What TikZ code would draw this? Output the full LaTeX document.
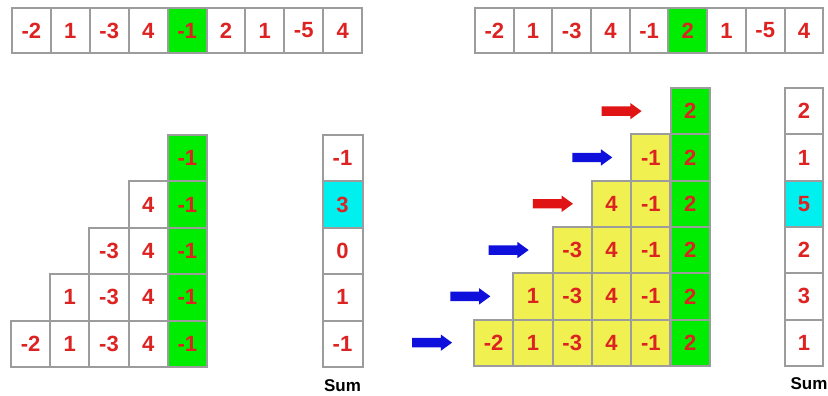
\documentclass[tikz,border=0pt]{standalone}
\usepackage{fontspec}
\setmainfont{Liberation Sans}
\usepackage{xcolor}
\usepackage{tikz}
\usetikzlibrary{positioning,shapes.arrows}
\definecolor{cellgreen}{HTML}{00EC00}
\definecolor{cellyellow}{HTML}{F0F050}
\definecolor{cellcyan}{HTML}{00F0F0}
\definecolor{gridgray}{HTML}{9C9C9C}
\definecolor{numred}{HTML}{DD2222}
\definecolor{arrblue}{HTML}{1010DD}
\definecolor{arrred}{HTML}{E01414}

\begin{document}
\begin{tikzpicture}[x=1pt, y=-1pt,
    cell/.style={rectangle, draw=gridgray, line width=2pt, inner sep=0pt,
                 minimum width=39.2pt, minimum height=46.3pt,
                 text=numred, font=\fontsize{22}{26}\selectfont\bfseries},
    topcell/.style={cell, minimum width=38.9pt, minimum height=45pt},
    sumlabel/.style={font=\fontsize{17}{20}\selectfont\bfseries, inner sep=2pt},
    fatarrow/.style={single arrow, draw=none, minimum height=40pt,
                     inner xsep=0pt, inner ysep=4.5pt, outer sep=0pt,
                     single arrow head extend=3.5pt, single arrow tip angle=72},
]
\useasboundingbox (0,0) rectangle (828,396);

% Input arrays
\foreach \v/\f [count=\i] in {-2/white, 1/white, -3/white, 4/white, -1/cellgreen,
                              2/white, 1/white, -5/white, 4/white}
    \node[topcell, fill=\f] (TL-\i) at ({12+38.9*(\i-0.5)}, 30.5) {\v};
\foreach \v/\f [count=\i] in {-2/white, 1/white, -3/white, 4/white, -1/white,
                              2/cellgreen, 1/white, -5/white, 4/white}
    \node[topcell, fill=\f] (TR-\i) at ({475+38.7*(\i-0.5)}, 30.5) {\v};

% Left triangle, ending at -1
\foreach \r in {1,...,5} {
    \pgfmathtruncatemacro\cs{6-\r}
    \foreach \c in {\cs,...,5} {
        \pgfmathtruncatemacro\v{{-2,1,-3,4,-1}[\c-1]}
        \ifnum\c=5 \def\cf{cellgreen}\else\def\cf{white}\fi
        \node[cell, fill=\cf] (L-\r-\c) at ({11+39.2*(\c-0.5)}, {135+46.4*(\r-0.5)}) {\v};
    }
}
\foreach \v/\f [count=\r] in {-1/white, 3/cellcyan, 0/white, 1/white, -1/white}
    \node[cell, fill=\f, minimum width=40pt] (LS-\r) at (342.5, {135+46.4*(\r-0.5)}) {\v};
\node[sumlabel, below=9pt of LS-5] (lsum) {Sum};

% Right triangle, ending at 2
\foreach \r in {1,...,6} {
    \pgfmathtruncatemacro\cs{7-\r}
    \foreach \c in {\cs,...,6} {
        \pgfmathtruncatemacro\v{{-2,1,-3,4,-1,2}[\c-1]}
        \ifnum\c=6 \def\cf{cellgreen}\else\def\cf{cellyellow}\fi
        \node[cell, fill=\cf] (R-\r-\c) at ({474+39.3*(\c-0.5)}, {88+46.3*(\r-0.5)}) {\v};
    }
}
\foreach \v/\f [count=\r] in {2/white, 1/white, 5/cellcyan, 2/white, 3/white, 1/white}
    \node[cell, fill=\f, minimum width=38pt] (RS-\r) at (804, {88+46.3*(\r-0.5)}) {\v};
\node[sumlabel, below=9pt of RS-6, xshift=5pt] (rsum) {Sum};

% Arrows
\foreach \r/\g/\col in {1/28/arrred, 2/18/arrblue, 3/18/arrred,
                        4/23/arrblue, 5/22/arrblue, 6/21/arrblue} {
    \pgfmathtruncatemacro\cs{7-\r}
    \node[fatarrow, fill=\col, left=\g pt of R-\r-\cs] (A-\r) {};
}
\end{tikzpicture}
\end{document}
